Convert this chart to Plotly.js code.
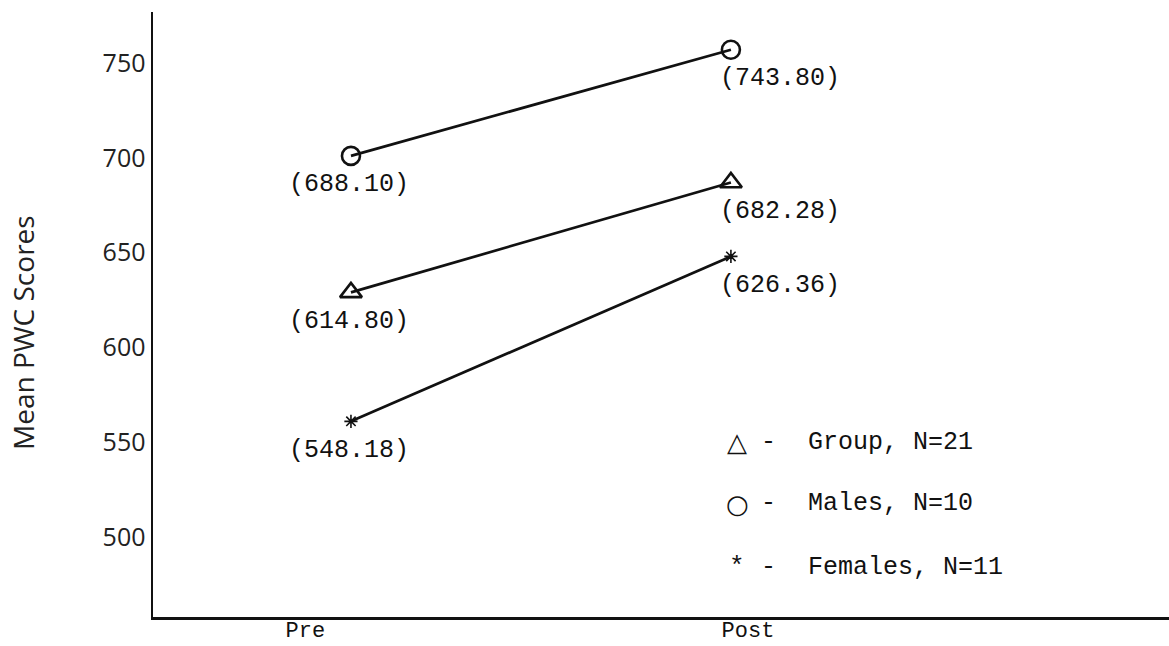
<!DOCTYPE html>
<html>
<head>
<meta charset="utf-8">
<script src="https://cdn.plot.ly/plotly-3.0.1.min.js"></script>
<style>
  html, body { margin: 0; padding: 0; background: #ffffff; }
  #chart { width: 1169px; height: 646px; }
</style>
</head>
<body>
<div id="chart"></div>
<script>
// ---- data ----
const phases = ['Pre', 'Post'];
const groupScores = [629, 687];      // plotted positions (triangles)
const maleScores = [701, 757];       // plotted positions (circles)
const femaleScores = [561, 648];     // plotted positions (asterisks)
const groupLabels = ['(614.80)', '(682.28)'];
const maleLabels = ['(688.10)', '(743.80)'];
const femaleLabels = ['(548.18)', '(626.36)'];
const yTickValues = [500, 550, 600, 650, 700, 750];
const yAxisTitle = 'Mean PWC Scores';
const legendSymbols = ['\u25B3', '\u25CB', '*'];
const legendNames = ['Group, N=21', 'Males, N=10', 'Females, N=11'];

// ---- styling ----
const ink = '#111111';
const mono = 'Liberation Mono, DejaVu Sans Mono, monospace';
const sans = 'Open Sans, Liberation Sans, sans-serif';
const xIdx = phases.map((_, i) => i);
const xLabelShift = [-0.12, 0.045];

function seriesTrace(name, ys, symbol, size, lw) {
  return {
    type: 'scatter', mode: 'lines+markers', name: name,
    x: xIdx, y: ys,
    line: { color: ink, width: 2.7 },
    marker: { symbol: symbol, size: size, color: ink, line: { color: ink, width: lw } },
    showlegend: false, hoverinfo: 'skip'
  };
}

const traces = [
  seriesTrace('Males', maleScores, 'circle-open', 18, 2.6),
  seriesTrace('Group', groupScores, 'triangle-up-open', 19, 2.6),
  seriesTrace('Females', femaleScores, 'asterisk-open', 11, 1.6)
];

const annotations = [];
function addLabels(ys, labels) {
  labels.forEach((t, i) => {
    annotations.push({
      x: xIdx[i], y: ys[i], xref: 'x', yref: 'y', text: t, showarrow: false,
      xanchor: 'left', yanchor: 'middle',
      xshift: i === 0 ? -64 : -13, yshift: -29,
      font: { family: mono, size: 25, color: ink }
    });
  });
}
addLabels(maleScores, maleLabels);
addLabels(groupScores, groupLabels);
addLabels(femaleScores, femaleLabels);

// legend (drawn as text)
const legendRowsY = [0.289, 0.187, 0.082];
legendNames.forEach((n, i) => {
  annotations.push({
    x: 0.575, y: legendRowsY[i], xref: 'paper', yref: 'paper',
    text: i === 2 ? legendSymbols[i] : '<b>' + legendSymbols[i] + '</b>',
    showarrow: false, xanchor: 'center', yanchor: 'middle',
    font: { family: i === 2 ? mono : 'DejaVu Sans, sans-serif', size: i === 2 ? 26 : 26, color: ink }
  });
  annotations.push({
    x: 0.606, y: legendRowsY[i], xref: 'paper', yref: 'paper', text: '-',
    showarrow: false, xanchor: 'center', yanchor: 'middle',
    font: { family: mono, size: 25, color: ink }
  });
  annotations.push({
    x: 0.643, y: legendRowsY[i], xref: 'paper', yref: 'paper', text: n,
    showarrow: false, xanchor: 'left', yanchor: 'middle',
    font: { family: mono, size: 25, color: ink }
  });
});

// y-axis title (placed like the reference, slightly below centre)
annotations.push({
  x: -0.128, y: 0.471, xref: 'paper', yref: 'paper', text: yAxisTitle,
  textangle: -90, showarrow: false, xanchor: 'center', yanchor: 'middle',
  font: { family: sans, size: 28, color: '#222222' }
});

const layout = {
  width: 1169, height: 646,
  margin: { l: 153, r: 0, t: 12, b: 29, pad: 0 },
  paper_bgcolor: '#ffffff', plot_bgcolor: '#ffffff',
  showlegend: false,
  xaxis: {
    range: [-0.521, 2.153],
    showline: true, linecolor: ink, linewidth: 2.5,
    showgrid: false, zeroline: false, ticks: '',
    tickvals: xIdx.map(i => i + xLabelShift[i]),
    ticktext: phases,
    tickfont: { family: mono, size: 22, color: ink },
    ticklabelstandoff: -9,
    fixedrange: true
  },
  yaxis: {
    range: [457.8, 776.9],
    showline: true, linecolor: ink, linewidth: 2.5,
    showgrid: false, zeroline: false, ticks: '',
    tickvals: yTickValues,
    ticktext: yTickValues.map(String),
    tickfont: { family: sans, size: 25, color: '#222222' },
    ticklabelstandoff: 0,
    fixedrange: true
  },
  annotations: annotations
};

Plotly.newPlot('chart', traces, layout, { displayModeBar: false, staticPlot: true });
</script>
</body>
</html>
